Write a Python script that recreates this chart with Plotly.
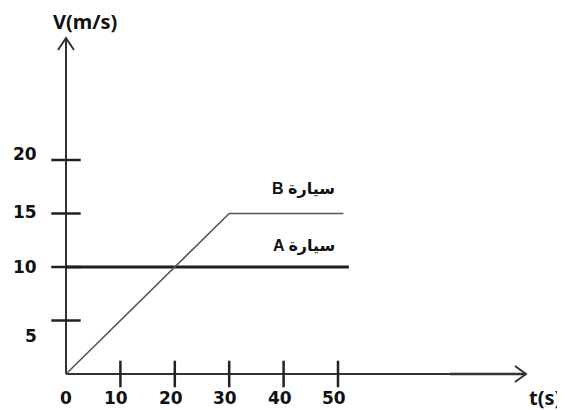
import plotly.graph_objects as go

# ---- data ----
car_a_t = [0, 52]
car_a_v = [10, 10]
car_b_t = [0, 30, 51]
car_b_v = [0, 15, 15]

x_ticks = [10, 20, 30, 40, 50]
x_tick_labels = ["0", "10", "20", "30", "40", "50"]
x_tick_label_vals = [0, 10, 20, 30, 40, 50]
y_ticks = [5, 10, 15, 20]
y_tick_labels = ["5", "10", "15", "20"]

label_a = "A سيارة"
label_b = "B سيارة"
x_title = "t(s)"
y_title = "V(m/s)"

# ---- pixel scale helpers (style) ----
OFF = 8                    # page body margin
W, H = 565 - OFF, 410 - OFF
X0, Y0 = 66 - OFF, 374 - OFF   # origin in figure pixels
SX, SY = 5.44, 10.7        # px per unit
x_range = [-X0 / SX, (W - X0) / SX]
y_range = [-(H - Y0) / SY, Y0 / SY]
x_end = (526 - OFF - X0) / SX
y_end = (Y0 - (38 - OFF)) / SY

AX = "#333333"
TXT = "#111111"
NUM_FONT = dict(family="DejaVu Sans", size=17, color=TXT)

fig = go.Figure()

# axes lines
fig.add_trace(go.Scatter(x=[0, x_end], y=[0, 0], mode="lines",
                         line=dict(color=AX, width=2), hoverinfo="skip"))
fig.add_trace(go.Scatter(x=[0, 0], y=[0, y_end], mode="lines",
                         line=dict(color=AX, width=2), hoverinfo="skip"))
# thicker end of x axis
fig.add_trace(go.Scatter(x=[(450 - 66) / SX, x_end], y=[0, 0], mode="lines",
                         line=dict(color=AX, width=2.6), hoverinfo="skip"))

# arrow heads (open chevrons)
adx, ady = 8 / SX, 12 / SY
fig.add_trace(go.Scatter(x=[-adx, 0, adx], y=[y_end - ady, y_end, y_end - ady],
                         mode="lines", line=dict(color=AX, width=2), hoverinfo="skip"))
bdx, bdy = 11 / SX, 8 / SY
fig.add_trace(go.Scatter(x=[x_end - bdx, x_end, x_end - bdx], y=[bdy, 0, -bdy],
                         mode="lines", line=dict(color=AX, width=2), hoverinfo="skip"))

# tick marks crossing the axes
fig.add_trace(go.Scatter(x=x_ticks, y=[0] * len(x_ticks), mode="markers",
                         marker=dict(symbol="line-ns", size=19,
                                     line=dict(color="#222222", width=2.5)),
                         hoverinfo="skip"))
fig.add_trace(go.Scatter(x=[0] * len(y_ticks), y=y_ticks, mode="markers",
                         marker=dict(symbol="line-ew", size=21,
                                     line=dict(color="#222222", width=2.5)),
                         hoverinfo="skip"))

# series
fig.add_trace(go.Scatter(x=car_a_t, y=car_a_v, mode="lines",
                         line=dict(color="#1e1e1e", width=3), hoverinfo="skip"))
fig.add_trace(go.Scatter(x=car_b_t, y=car_b_v, mode="lines",
                         line=dict(color="#555555", width=1.6), hoverinfo="skip"))

annotations = []
# x tick labels
for v, lab in zip(x_tick_label_vals, x_tick_labels):
    annotations.append(dict(x=v, y=0, text="<b>%s</b>" % lab, showarrow=False,
                            xanchor="center", yanchor="middle",
                            xshift=(0 if v == 0 else -4), yshift=-24, font=NUM_FONT))
# y tick labels
y_label_shift = {5: -15, 10: 0, 15: 2, 20: 6}
for v, lab in zip(y_ticks, y_tick_labels):
    annotations.append(dict(x=0, y=v, text="<b>%s</b>" % lab, showarrow=False,
                            xanchor="right", yanchor="middle",
                            xshift=-27, yshift=y_label_shift[v], font=NUM_FONT))

lab_font = dict(family="Liberation Sans, DejaVu Sans", size=16, color=TXT)
annotations.append(dict(x=(303 - 66) / SX, y=car_b_v[-1], text="<b>%s</b>" % label_b,
                        showarrow=False, xanchor="center", yanchor="middle",
                        yshift=25, font=lab_font))
annotations.append(dict(x=(304 - 66) / SX, y=car_a_v[-1], text="<b>%s</b>" % label_a,
                        showarrow=False, xanchor="center", yanchor="middle",
                        yshift=21, font=lab_font))

title_font = dict(family="Noto Sans", size=20, color=TXT)
annotations.append(dict(x=0, y=y_end, text="<b>%s</b>" % y_title, showarrow=False,
                        xanchor="center", yanchor="middle",
                        xshift=19, yshift=17, font=title_font))
annotations.append(dict(x=x_end, y=0, text="<b>%s</b>" % x_title, showarrow=False,
                        xanchor="left", yanchor="middle",
                        xshift=1, yshift=-23, font=title_font))

fig.update_layout(
    width=W, height=H, autosize=False,
    margin=dict(l=0, r=0, t=0, b=0, pad=0),
    paper_bgcolor="white", plot_bgcolor="white",
    showlegend=False,
    xaxis=dict(range=x_range, visible=False, fixedrange=True),
    yaxis=dict(range=y_range, visible=False, fixedrange=True),
    annotations=annotations,
)

fig.write_html("out.html")
